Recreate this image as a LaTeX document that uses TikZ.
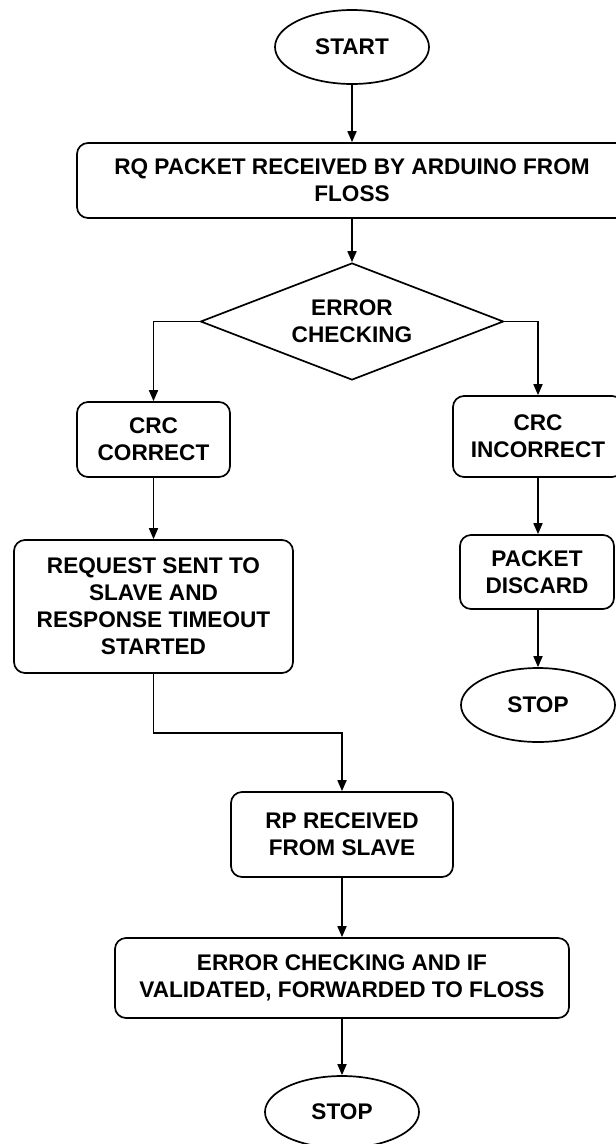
\documentclass[tikz,border=0pt]{standalone}
\usepackage{fontspec}
\setmainfont{Liberation Sans}
\usetikzlibrary{shapes.geometric,arrows.meta}
\begin{document}
\begin{tikzpicture}[x=1pt,y=-1pt,
  every node/.style={font=\bfseries\fontsize{22.6}{27}\selectfont, align=center, line width=1.7pt, draw=black, inner sep=0pt},
  proc/.style={rectangle, rounded corners=11pt},
  term/.style={ellipse},
  dec/.style={diamond, aspect=2.59},
  arr/.style={line width=1.7pt, -{Triangle[length=11pt,width=9pt]}}]
\useasboundingbox (0,0) rectangle (616,1144);
\fill[white] (0,0) rectangle (616,1144);
\node[term, minimum width=154pt, minimum height=74pt] (start) at (352,47) {START};
\node[proc, minimum width=550pt, minimum height=75pt] (rq) at (352,180.5) {RQ PACKET RECEIVED BY ARDUINO FROM\\FLOSS};
\node[dec, minimum width=303pt, minimum height=117pt] (dia) at (352,321.5) {ERROR\\CHECKING};
\node[proc, minimum width=153pt, minimum height=75pt] (crc1) at (153.5,439.5) {CRC\\CORRECT};
\node[proc, minimum width=170pt, minimum height=81pt] (crc2) at (538,436.5) {CRC\\INCORRECT};
\node[proc, minimum width=279pt, minimum height=133pt] (req) at (153.5,606.5) {REQUEST SENT TO\\SLAVE AND\\RESPONSE TIMEOUT\\STARTED};
\node[proc, minimum width=154pt, minimum height=74pt] (disc) at (537,572) {PACKET\\DISCARD};
\node[term, minimum width=154pt, minimum height=74pt] (stop1) at (538,705) {STOP};
\node[proc, minimum width=222pt, minimum height=85pt] (rp) at (342,834.5) {RP RECEIVED\\FROM SLAVE};
\node[proc, minimum width=454pt, minimum height=80pt] (err2) at (342,978) {ERROR CHECKING AND IF\\VALIDATED, FORWARDED TO FLOSS};
\node[term, minimum width=154pt, minimum height=72pt] (stop2) at (342,1112) {STOP};
\coordinate (b1) at (153.5,733);
\draw[arr] (start) -- (rq);
\draw[arr] (rq) -- (dia);
\draw[arr] (dia.west) -| (crc1.north);
\draw[arr] (dia.east) -| (crc2.north);
\draw[arr] (crc1) -- (req);
\draw[arr] (req.south) -- (b1) -| (rp.north);
\draw[arr] (rp) -- (err2);
\draw[arr] (err2) -- (stop2);
\draw[arr] (crc2) -- (crc2 |- disc.north);
\draw[arr] (disc.south -| stop1) -- (stop1);
\end{tikzpicture}
\end{document}
